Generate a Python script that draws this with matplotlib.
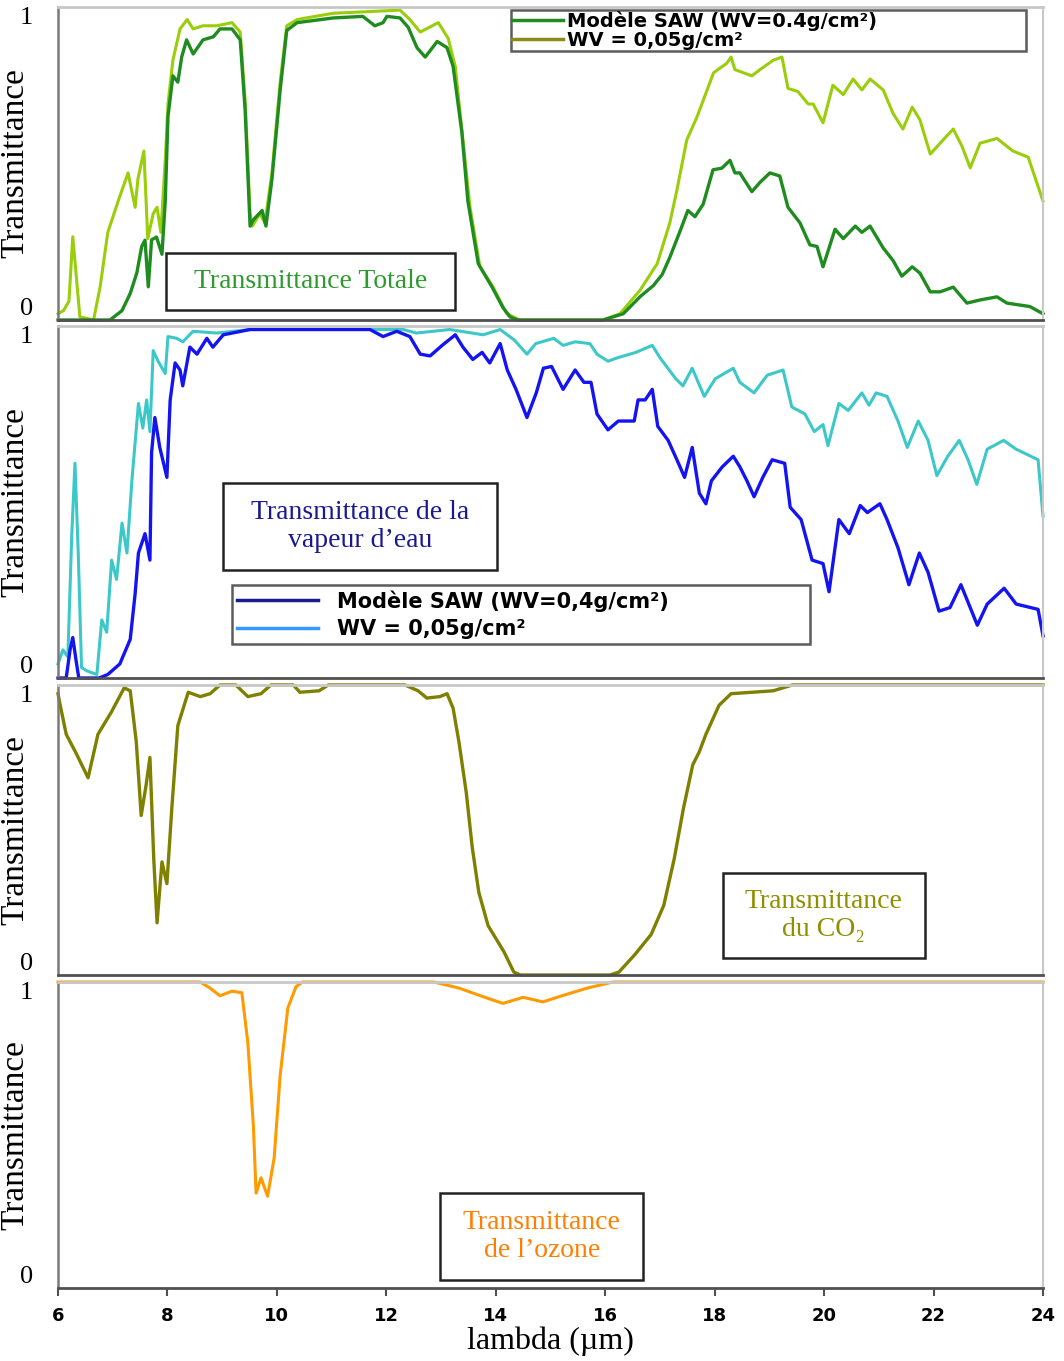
import matplotlib
matplotlib.use("Agg")
import matplotlib.pyplot as plt
from matplotlib.patches import Rectangle
from matplotlib.lines import Line2D

# ---------------- data ----------------
# Panel 1 : total transmittance
wl_tot_saw = [6.0, 6.9, 6.95, 7.17, 7.32, 7.44, 7.53, 7.59, 7.65, 7.71, 7.80, 7.90, 7.96, 8.01, 8.10, 8.19,
              8.26, 8.35, 8.47, 8.65, 8.84, 8.96, 9.18, 9.33, 9.42, 9.51, 9.57, 9.73, 9.80, 9.91, 10.06, 10.18,
              10.37, 11.03, 11.57, 11.79, 11.94, 12.01, 12.25, 12.40, 12.56, 12.71, 12.93, 13.11, 13.22, 13.38,
              13.49, 13.68, 13.93, 14.13, 14.26, 14.4, 15.96, 16.33, 16.64, 16.88, 17.04, 17.18, 17.37, 17.51,
              17.64, 17.79, 17.97, 18.13, 18.28, 18.37, 18.46, 18.68, 18.83, 19.01, 19.19, 19.34, 19.56, 19.74,
              19.87, 19.98, 20.20, 20.35, 20.57, 20.69, 20.84, 21.08, 21.26, 21.42, 21.61, 21.75, 21.94, 22.12,
              22.36, 22.61, 22.85, 23.16, 23.34, 23.76, 24.0]
t_tot_saw = [0.0, 0.0, 0.0, 0.03, 0.085, 0.15, 0.235, 0.255, 0.106, 0.256, 0.265, 0.21, 0.38, 0.65, 0.78, 0.76,
             0.84, 0.895, 0.85, 0.895, 0.905, 0.93, 0.93, 0.895, 0.67, 0.30, 0.32, 0.35, 0.30, 0.45, 0.735, 0.925,
             0.95, 0.965, 0.97, 0.94, 0.95, 0.97, 0.965, 0.935, 0.87, 0.84, 0.89, 0.87, 0.81, 0.60,
             0.38, 0.18, 0.106, 0.04, 0.01, 0.0, 0.0, 0.02, 0.075, 0.11, 0.145, 0.20, 0.285, 0.35,
             0.33, 0.37, 0.48, 0.485, 0.51, 0.47, 0.47, 0.41, 0.44, 0.47, 0.46, 0.36, 0.31, 0.24,
             0.235, 0.17, 0.29, 0.26, 0.30, 0.28, 0.30, 0.23, 0.19, 0.14, 0.17, 0.15, 0.09, 0.09,
             0.105, 0.054, 0.064, 0.074, 0.054, 0.043, 0.02]

wl_tot_05 = [6.0, 6.1, 6.2, 6.27, 6.40, 6.65, 6.77, 6.91, 7.10, 7.28, 7.41, 7.46, 7.57, 7.64, 7.74, 7.81, 7.88,
             7.96, 8.01, 8.10, 8.23, 8.36, 8.47, 8.65, 8.90, 9.18, 9.33, 9.42, 9.51, 9.55, 9.69, 9.78, 9.91,
             10.06, 10.18, 10.37, 11.03, 11.64, 12.25, 12.43, 12.62, 12.95, 13.13, 13.26, 13.40, 13.53, 13.71,
             13.95, 14.2, 14.44, 15.96, 16.27, 16.64, 16.95, 17.18, 17.31, 17.49, 17.68, 17.98, 18.22, 18.30,
             18.37, 18.68, 18.83, 19.07, 19.23, 19.34, 19.52, 19.71, 19.80, 19.98, 20.16, 20.35, 20.53, 20.69,
             20.84, 21.08, 21.26, 21.44, 21.61, 21.75, 21.94, 22.12, 22.36, 22.52, 22.67, 22.85, 23.16, 23.45,
             23.73, 24.0]
t_tot_05 = [0.02, 0.03, 0.06, 0.266, 0.01, 0.0, 0.106, 0.28, 0.38, 0.47, 0.36, 0.45, 0.54, 0.26, 0.34, 0.36, 0.28,
            0.51, 0.69, 0.83, 0.93, 0.96, 0.93, 0.94, 0.94, 0.95, 0.92, 0.70, 0.34, 0.30, 0.34, 0.31, 0.47,
            0.76, 0.94, 0.96, 0.98, 0.985, 0.99, 0.96, 0.92, 0.95, 0.90, 0.81, 0.575, 0.36, 0.17,
            0.105, 0.02, 0.0, 0.0, 0.02, 0.096, 0.18, 0.31, 0.415, 0.575, 0.65, 0.79, 0.82, 0.84,
            0.80, 0.78, 0.80, 0.83, 0.84, 0.74, 0.73, 0.69, 0.69, 0.63, 0.75, 0.72, 0.77, 0.735,
            0.77, 0.735, 0.66, 0.61, 0.68, 0.64, 0.53, 0.565, 0.61, 0.555, 0.486, 0.565, 0.58, 0.54,
            0.52, 0.38]

# Panel 2 : water vapour transmittance
wl_h2o_saw = [6.0, 6.15, 6.22, 6.27, 6.33, 6.38, 6.75, 6.91, 7.13, 7.32, 7.41, 7.47, 7.59, 7.68, 7.71, 7.77,
              7.86, 7.99, 8.05, 8.14, 8.23, 8.28, 8.41, 8.54, 8.72, 8.83, 9.02, 9.51, 11.70, 11.94, 12.19, 12.43,
              12.62, 12.80, 13.02, 13.26, 13.40, 13.58, 13.75, 13.89, 14.08, 14.21, 14.37, 14.57, 14.74, 14.87,
              15.02, 15.23, 15.45, 15.61, 15.74, 15.85, 16.05, 16.24, 16.53, 16.60, 16.73, 16.86, 16.96, 17.15,
              17.31, 17.45, 17.59, 17.72, 17.84, 17.94, 18.14, 18.34, 18.46, 18.59, 18.72, 18.88, 19.05, 19.28,
              19.38, 19.58, 19.78, 19.98, 20.09, 20.27, 20.46, 20.66, 20.79, 21.02, 21.15, 21.35, 21.55, 21.74,
              21.90, 22.10, 22.30, 22.50, 22.67, 22.80, 22.98, 23.29, 23.51, 23.91, 24.0]
t_h2o_saw = [0.0, 0.0, 0.08, 0.115, 0.05, 0.0, 0.0, 0.01, 0.04, 0.11, 0.24, 0.355, 0.41, 0.335, 0.64, 0.74,
             0.655, 0.57, 0.79, 0.895, 0.875, 0.83, 0.94, 0.92, 0.965, 0.94, 0.975, 0.99, 0.99, 0.97, 0.985, 0.97,
             0.92, 0.915, 0.945, 0.975, 0.94, 0.905, 0.925, 0.895, 0.95, 0.875, 0.82, 0.74, 0.81, 0.88,
             0.885, 0.82, 0.875, 0.84, 0.84, 0.75, 0.705, 0.73, 0.73, 0.79, 0.79, 0.82, 0.715, 0.675,
             0.62, 0.57, 0.655, 0.525, 0.495, 0.56, 0.60, 0.63, 0.60, 0.56, 0.515, 0.57, 0.62, 0.61,
             0.485, 0.45, 0.335, 0.325, 0.245, 0.45, 0.41, 0.49, 0.47, 0.495, 0.45, 0.37, 0.265, 0.355,
             0.30, 0.19, 0.20, 0.265, 0.20, 0.15, 0.21, 0.255, 0.21, 0.195, 0.12]

wl_h2o_05 = [6.0, 6.09, 6.18, 6.25, 6.31, 6.37, 6.43, 6.53, 6.71, 6.80, 6.89, 6.98, 7.07, 7.17, 7.26, 7.35,
             7.47, 7.55, 7.62, 7.68, 7.74, 7.83, 7.96, 8.01, 8.17, 8.28, 8.47, 8.90, 9.51, 12.31, 12.55, 13.16,
             13.77, 14.08, 14.34, 14.57, 14.73, 15.06, 15.23, 15.45, 15.72, 15.85, 16.05, 16.23, 16.56, 16.86,
             17.0, 17.29, 17.42, 17.59, 17.81, 18.01, 18.34, 18.46, 18.72, 18.96, 19.25, 19.41, 19.65, 19.82,
             19.98, 20.07, 20.27, 20.44, 20.69, 20.82, 20.95, 21.15, 21.35, 21.52, 21.72, 21.90, 22.06, 22.26,
             22.47, 22.63, 22.79, 22.98, 23.28, 23.51, 23.91, 24.0]
t_h2o_05 = [0.04, 0.08, 0.06, 0.40, 0.61, 0.355, 0.03, 0.02, 0.01, 0.165, 0.13, 0.335, 0.28, 0.44, 0.355, 0.56,
            0.78, 0.71, 0.79, 0.70, 0.93, 0.90, 0.865, 0.97, 0.965, 0.955, 0.985, 0.98, 0.99, 0.99, 0.98, 0.99,
            0.975, 0.99, 0.96, 0.92, 0.95, 0.965, 0.945, 0.955, 0.95, 0.92, 0.90, 0.91, 0.925, 0.945,
            0.91, 0.85, 0.83, 0.88, 0.80, 0.85, 0.88, 0.84, 0.81, 0.86, 0.875, 0.77, 0.75, 0.70,
            0.72, 0.66, 0.78, 0.76, 0.81, 0.775, 0.81, 0.80, 0.73, 0.655, 0.73, 0.675, 0.575, 0.63,
            0.675, 0.62, 0.55, 0.65, 0.675, 0.65, 0.62, 0.46]

# Panel 3 : CO2 transmittance
wl_co2 = [6.0, 6.03, 6.15, 6.33, 6.55, 6.73, 6.97, 7.21, 7.32, 7.43, 7.52, 7.61, 7.68, 7.75, 7.81, 7.90, 7.99,
          8.08, 8.19, 8.38, 8.60, 8.78, 8.96, 9.25, 9.47, 9.71, 9.89, 10.3, 10.42, 10.77, 10.94, 12.34, 12.58,
          12.74, 12.98, 13.11, 13.22, 13.33, 13.46, 13.57, 13.69, 13.86, 14.15, 14.33, 14.45, 16.09, 16.25,
          16.54, 16.84, 17.07, 17.26, 17.43, 17.60, 17.72, 17.84, 18.08, 18.30, 19.07, 19.42, 24.0]
t_co2 = [0.97, 0.94, 0.83, 0.765, 0.68, 0.83, 0.905, 0.99, 0.98, 0.805, 0.55, 0.655, 0.75, 0.40, 0.18, 0.39, 0.315,
         0.575, 0.86, 0.975, 0.96, 0.97, 1.0, 1.0, 0.96, 0.97, 1.0, 1.0, 0.975, 0.98, 1.0, 1.0, 0.98,
         0.955, 0.96, 0.97, 0.92, 0.80, 0.63, 0.44, 0.285, 0.17, 0.08, 0.01, 0.0, 0.0, 0.01,
         0.07, 0.14, 0.24, 0.40, 0.575, 0.725, 0.77, 0.83, 0.93, 0.97, 0.98, 1.0, 1.0]

# Panel 4 : ozone transmittance
wl_o3 = [6.0, 8.60, 8.78, 8.96, 9.18, 9.36, 9.47, 9.57, 9.62, 9.71, 9.83, 9.95, 10.06, 10.20, 10.35, 10.47,
         12.87, 13.33, 13.80, 14.13, 14.50, 14.86, 15.21, 15.67, 16.14, 24.0]
t_o3 = [1.0, 1.0, 0.98, 0.955, 0.97, 0.965, 0.80, 0.53, 0.31, 0.36, 0.30, 0.425, 0.695, 0.915, 0.985, 1.0,
        1.0, 0.98, 0.95, 0.93, 0.95, 0.935, 0.955, 0.98, 1.0, 1.0]

x_ticks = [6, 8, 10, 12, 14, 16, 18, 20, 22, 24]
legend_saw_top = "Modèle SAW (WV=0.4g/cm²)"
legend_saw = "Modèle SAW (WV=0,4g/cm²)"
legend_05 = "WV = 0,05g/cm²"

# ---------------- figure ----------------
W, H = 1064, 1361
fig = plt.figure(figsize=(W / 100, H / 100), dpi=100)
fig.patch.set_facecolor("white")

def fbox(top_px, bot_px, left_px=58, right_px=1043):
    return [left_px / W, 1 - bot_px / H, (right_px - left_px) / W, (bot_px - top_px) / H]

axes = [fig.add_axes(fbox(7, 320)), fig.add_axes(fbox(326, 678)),
        fig.add_axes(fbox(685, 975)), fig.add_axes(fbox(982, 1288))]

serif = ["Liberation Serif", "DejaVu Serif"]

for i, ax in enumerate(axes):
    ax.set_xlim(6, 24)
    ax.set_ylim(0, 1)
    ax.spines["top"].set_color("#c8c8c8")
    ax.spines["top"].set_linewidth(2)
    ax.spines["right"].set_color("#c8c8c8")
    ax.spines["right"].set_linewidth(1.5)
    ax.spines["left"].set_color("#7a7a7a")
    ax.spines["left"].set_linewidth(1.8)
    ax.spines["bottom"].set_color("#505050")
    ax.spines["bottom"].set_linewidth(2)
    ax.set_yticks([0, 1])
    ax.set_yticklabels(["0", "1"], fontfamily=serif, fontsize=19)
    labs = ax.get_yticklabels()
    labs[0].set_va("bottom")
    labs[1].set_va("top")
    ax.tick_params(axis="y", length=0, pad=18)
    ax.set_ylabel("Transmittance", fontfamily=serif, fontsize=24)
    ax.yaxis.set_label_coords(-0.028, 0.5)
    if i < 3:
        ax.set_xticks([])
    else:
        ax.set_xticks(x_ticks)
        ax.set_xticklabels([str(t) for t in x_ticks], fontfamily="DejaVu Sans",
                           fontweight="bold", fontsize=13)
        ax.tick_params(axis="x", direction="out", length=6, width=1.5, color="#505050", pad=8)
        ax.set_xlabel("lambda (µm)", fontfamily=serif, fontsize=23, labelpad=1)

ax1, ax2, ax3, ax4 = axes

dg, lg = "#1f8c1f", "#9acd0a"
blue, cyan = "#1414f0", "#3cc8c8"
olive, orange = "#7f7f00", "#ff9a00"

ax1.plot(wl_tot_05, t_tot_05, color=lg, lw=2.2, clip_on=False)
ax1.plot(wl_tot_saw, t_tot_saw, color=dg, lw=2.4, clip_on=False)
ax2.plot(wl_h2o_05, t_h2o_05, color=cyan, lw=2.2, clip_on=False)
ax2.plot(wl_h2o_saw, t_h2o_saw, color=blue, lw=2.4, clip_on=False)
ax3.plot(wl_co2, t_co2, color=olive, lw=2.4, clip_on=False)
ax4.plot(wl_o3, t_o3, color=orange, lw=2.2, clip_on=False)

# legends
h1 = [Line2D([], [], color="#1f8c1f", lw=2.5), Line2D([], [], color="#8b8b1a", lw=2.5)]
leg1 = ax1.legend(h1, [legend_saw_top, legend_05], loc="upper left",
                  bbox_to_anchor=(0.46, 0.99, 0.523, 0.0), mode="expand",
                  prop={"family": "DejaVu Sans", "weight": "bold", "size": 14},
                  frameon=True, fancybox=False, borderpad=0.05, labelspacing=0.0,
                  handlelength=2.6, handletextpad=0.25, borderaxespad=0)
leg1.get_frame().set_edgecolor("#333333")
leg1.get_frame().set_linewidth(1.8)

h2 = [Line2D([], [], color="#1a1a8c", lw=2.5), Line2D([], [], color="#3399ff", lw=2.5)]
leg2 = ax2.legend(h2, [legend_saw, legend_05], loc="upper left",
                  bbox_to_anchor=(0.1766, 0.264, 0.587, 0.0), mode="expand",
                  prop={"family": "DejaVu Sans", "weight": "bold", "size": 15},
                  frameon=True, fancybox=False, borderpad=0.25, labelspacing=0.35,
                  handlelength=3.9, handletextpad=0.9, borderaxespad=0)
leg2.get_frame().set_edgecolor("#333333")
leg2.get_frame().set_linewidth(1.8)

# label boxes
def label_box(ax, x0, y0, x1, y1, text, color):
    ax.add_patch(Rectangle((x0, y0), x1 - x0, y1 - y0, transform=ax.transAxes,
                           facecolor="white", edgecolor="#222222", lw=1.8, zorder=5))
    ax.text((x0 + x1) / 2, (y0 + y1) / 2, text, transform=ax.transAxes, ha="center",
            va="center", color=color, fontfamily=serif, fontsize=20, zorder=6,
            linespacing=1.15)

label_box(ax1, 0.1096, 0.032, 0.403, 0.214, "Transmittance Totale", "#2e9a2e")
label_box(ax2, 0.1675, 0.307, 0.4457, 0.554, "Transmittance de la\nvapeur d’eau", "#1a1a8c")
label_box(ax3, 0.675, 0.0586, 0.880, 0.352, "Transmittance\ndu CO₂", "#8f8f00")
label_box(ax4, 0.388, 0.026, 0.594, 0.31, "Transmittance\nde l’ozone", "#ff8000")

fig.savefig("out.png", dpi=100, facecolor="white")
